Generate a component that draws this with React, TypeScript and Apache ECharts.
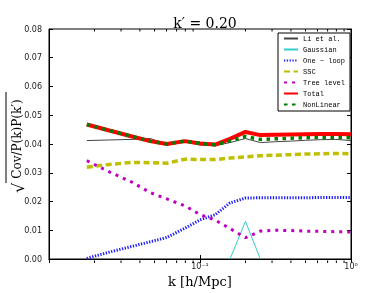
import React, { useEffect, useRef } from "react";
import * as echarts from "echarts";

const kValues = [0.0178, 0.0251, 0.0355, 0.0468, 0.0603, 0.0794, 0.1, 0.126, 0.158, 0.2, 0.251, 0.316, 0.398, 0.501, 0.631, 0.794, 1.0];
const liEtAl = [0.0412, 0.0414, 0.0416, 0.0419, 0.0400, 0.0408, 0.0397, 0.0394, 0.0405, 0.0419, 0.0405, 0.0408, 0.0410, 0.0413, 0.0415, 0.0416, 0.0412];
const gaussK = [0.158, 0.2, 0.251];
const gaussian = [0, 0.0131, 0];
const oneLoop = [0.0002, 0.0024, 0.0044, 0.0060, 0.0075, 0.0107, 0.0136, 0.0154, 0.0195, 0.0212, 0.0213, 0.0213, 0.0213, 0.0213, 0.0214, 0.0214, 0.0214];
const ssc = [0.0319, 0.0329, 0.0336, 0.0335, 0.0333, 0.0347, 0.0346, 0.0346, 0.0351, 0.0355, 0.0359, 0.0361, 0.0363, 0.0365, 0.0366, 0.0367, 0.0366];
const treeLevel = [0.0342, 0.0303, 0.0267, 0.0231, 0.0209, 0.0185, 0.0155, 0.0135, 0.0106, 0.0074, 0.0097, 0.0100, 0.0099, 0.0097, 0.0096, 0.0095, 0.0094];
const total = [0.0468, 0.0447, 0.0426, 0.0410, 0.0400, 0.0410, 0.0402, 0.0398, 0.0418, 0.0442, 0.0431, 0.0432, 0.0433, 0.0434, 0.0435, 0.0435, 0.0434];
const nonLinear = [0.0468, 0.0447, 0.0426, 0.0410, 0.0400, 0.0410, 0.0402, 0.0397, 0.0411, 0.0426, 0.0416, 0.0418, 0.0420, 0.0422, 0.0423, 0.0423, 0.0422];

const seriesNames = ["Li et al.", "Gaussian", "One \u2212 loop", "SSC", "Tree level", "Total", "NonLinear"];
const xTickLabels: Record<string, string> = { "0.1": "10\u207B\u00B9", "1": "10\u2070" };
const minorDecades = [0.01, 0.1];
const minorMultipliers = [2, 3, 4, 5, 6, 7, 8, 9];

const pairs = (xs: number[], ys: number[]) => xs.map((x, i) => [x, ys[i]]);

export default function App() {
  const ref = useRef<HTMLDivElement>(null);
  useEffect(() => {
    if (!ref.current) return;
    const chart = echarts.init(ref.current, undefined, { renderer: "svg" });
    const grid = { left: 49, right: 39, top: 29, bottom: 30 };
    const lineSeries = (name: string, data: number[][], color: string, width: number, type: any, z: number) => ({
      name,
      type: "line",
      data,
      symbol: "none",
      showSymbol: false,
      z,
      color,
      lineStyle: { color, width, type, cap: "butt" },
      itemStyle: { color: "transparent", borderColor: "transparent", borderWidth: 0 },
    });
    const axisLabelStyle = { fontFamily: "DejaVu Sans", fontSize: 8, color: "#222" };
    chart.setOption({
      animation: false,
      grid: { ...grid, show: true, borderColor: "#000", borderWidth: 1 },
      title: {
        text: "k\u2032 = 0.20",
        left: 200,
        textAlign: "center",
        top: 11,
        textStyle: { fontFamily: "DejaVu Serif", fontSize: 14, fontWeight: "normal", color: "#000" },
      },
      legend: {
        data: seriesNames,
        orient: "vertical",
        left: 278,
        top: 33,
        itemWidth: 14,
        itemHeight: 8,
        itemGap: 4,
        padding: [2, 5, 3, 5],
        borderColor: "#000",
        borderWidth: 1,
        backgroundColor: "#fff",
        itemStyle: { color: "transparent", borderColor: "transparent", borderWidth: 0 },
        textStyle: { fontFamily: "Liberation Mono", fontSize: 7, color: "#000" },
      },
      xAxis: [
        {
          type: "log",
          logBase: 10,
          min: 0.01,
          max: 1,
          position: "bottom",
          name: "k [h/Mpc]",
          nameLocation: "middle",
          nameGap: 16,
          nameTextStyle: { fontFamily: "DejaVu Serif", fontSize: 13, color: "#000" },
          axisLine: { lineStyle: { color: "#000", width: 1 } },
          axisTick: { inside: true, length: 4, lineStyle: { color: "#000" } },
          splitLine: { show: false },
          axisLabel: {
            ...axisLabelStyle,
            margin: 3,
            formatter: (v: number) => xTickLabels[String(v)] ?? "",
          },
        },
        {
          type: "log",
          logBase: 10,
          min: 0.01,
          max: 1,
          position: "top",
          axisLine: { lineStyle: { color: "#000", width: 1 } },
          axisTick: { inside: true, length: 4, lineStyle: { color: "#000" } },
          splitLine: { show: false },
          axisLabel: { show: false },
        },
      ],
      yAxis: [
        {
          type: "value",
          min: 0,
          max: 0.08,
          interval: 0.01,
          position: "left",
          axisLine: { show: true, lineStyle: { color: "#000", width: 1 } },
          axisTick: { show: true, inside: true, length: 4, lineStyle: { color: "#000" } },
          splitLine: { show: false },
          axisLabel: { ...axisLabelStyle, margin: 7, formatter: (v: number) => v.toFixed(2) },
        },
        {
          type: "value",
          min: 0,
          max: 0.08,
          interval: 0.01,
          position: "right",
          axisLine: { show: true, lineStyle: { color: "#000", width: 1 } },
          axisTick: { show: true, inside: true, length: 4, lineStyle: { color: "#000" } },
          splitLine: { show: false },
          axisLabel: { show: false },
        },
      ],
      series: [
        lineSeries(seriesNames[0], pairs(kValues, liEtAl), "#444444", 1, "solid", 2),
        lineSeries(seriesNames[1], pairs(gaussK, gaussian), "#33cccc", 1, "solid", 3),
        lineSeries(seriesNames[2], pairs(kValues, oneLoop), "#1a1aff", 3, [1.3, 1.5], 4),
        lineSeries(seriesNames[3], pairs(kValues, ssc), "#bfbf00", 3.5, [6, 3.5], 5),
        lineSeries(seriesNames[4], pairs(kValues, treeLevel), "#bf00bf", 3, [3, 5], 6),
        lineSeries(seriesNames[5], pairs(kValues, total), "#ff0000", 4, "solid", 7),
        lineSeries(seriesNames[6], pairs(kValues, nonLinear), "#007f00", 3.5, [3.5, 4.5], 8),
      ],
    });

    const top = grid.top;
    const bottom = 293 - grid.bottom;
    const minorTicks: any[] = [];
    minorDecades.forEach((d) => {
      minorMultipliers.forEach((m) => {
        const p = chart.convertToPixel({ gridIndex: 0 }, [d * m, 0]) as number[];
        const x = p[0];
        minorTicks.push({
          type: "line",
          shape: { x1: x, y1: bottom, x2: x, y2: bottom - 2.5 },
          style: { stroke: "#000", lineWidth: 1 },
          z: 10,
        });
        minorTicks.push({
          type: "line",
          shape: { x1: x, y1: top, x2: x, y2: top + 2.5 },
          style: { stroke: "#000", lineWidth: 1 },
          z: 10,
        });
      });
    });

    chart.setOption({
      graphic: [
        ...minorTicks,
        {
          type: "group",
          x: 17,
          y: 144,
          rotation: Math.PI / 2,
          children: [
            {
              type: "text",
              x: 5,
              y: 0,
              style: {
                text: "Cov/P(k)P(k\u2032)",
                fontFamily: "DejaVu Serif",
                fontSize: 12,
                fill: "#000",
                textAlign: "center",
                textVerticalAlign: "middle",
              },
            },
            {
              type: "text",
              x: -44,
              y: 1,
              style: {
                text: "\u221A",
                fontFamily: "DejaVu Serif",
                fontSize: 16,
                fill: "#000",
                textAlign: "center",
                textVerticalAlign: "middle",
              },
            },
            {
              type: "line",
              shape: { x1: -39, y1: -11, x2: 52, y2: -11 },
              style: { stroke: "#000", lineWidth: 1 },
            },
          ],
        },
      ],
    });

    return () => chart.dispose();
  }, []);
  return <div ref={ref} style={{ position: "fixed", left: 0, top: 0, width: 390, height: 293 }} />;
}
